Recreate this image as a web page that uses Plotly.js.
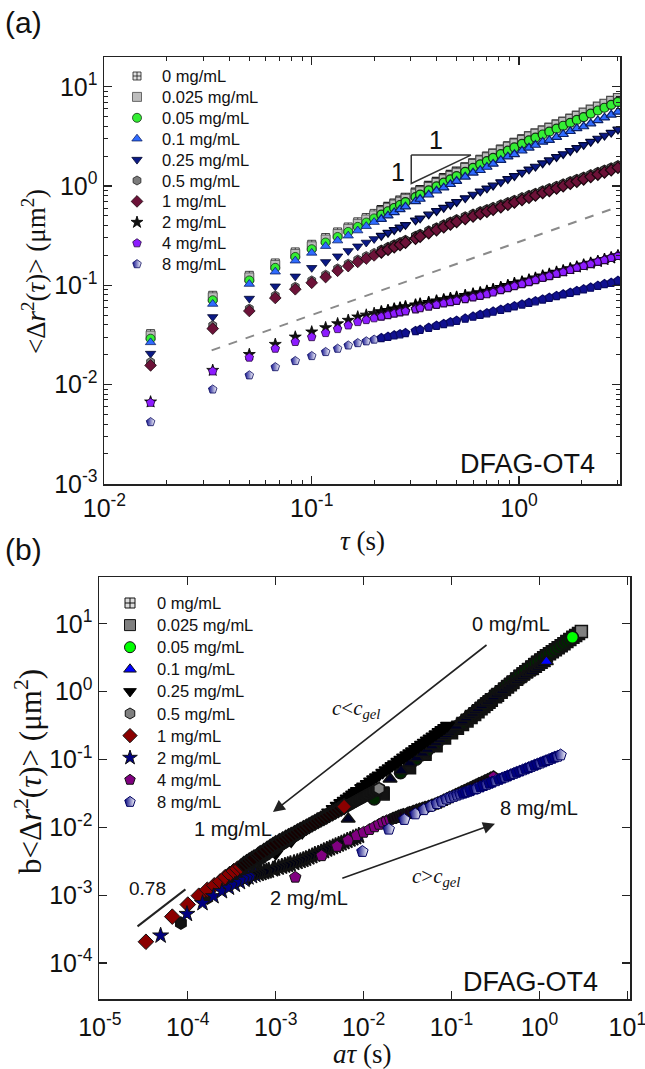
<!DOCTYPE html>
<html><head><meta charset="utf-8">
<script src="https://cdn.plot.ly/plotly-3.0.1.min.js"></script>
<style>body{margin:0;background:#fff}#chart{width:645px;height:1069px}</style>
</head><body><div id="chart"></div>
<script>
// ---------------- data ----------------
const concLabels = ['0 mg/mL','0.025 mg/mL','0.05 mg/mL','0.1 mg/mL','0.25 mg/mL','0.5 mg/mL','1 mg/mL','2 mg/mL','4 mg/mL','8 mg/mL'];
const tau = [0.0167,0.0333,0.05,0.0667,0.0833,0.1,0.1167,0.1333,0.15,0.1667,0.1833,0.2,0.2167,0.2333,0.25,0.2667,0.2833,0.3167,0.3333,0.3667,0.4,0.4333,0.4667,0.5,0.55,0.6,0.65,0.7,0.75,0.8167,0.8833,0.95,1.0333,1.1167,1.2,1.3,1.4,1.5167,1.6333,1.7667,1.9,2.05,2.2167,2.4,2.5833,2.7833,3.0];
const msd_0 = [0.0326,0.0793,0.126,0.168,0.217,0.259,0.303,0.345,0.387,0.436,0.482,0.530,0.578,0.625,0.675,0.723,0.771,0.869,0.920,1.016,1.114,1.213,1.312,1.413,1.560,1.710,1.858,2.004,2.153,2.350,2.547,2.748,2.985,3.199,3.412,3.664,3.908,4.198,4.487,4.808,5.140,5.495,5.888,6.324,6.745,7.211,7.709];
const msd_0025 = [0.0311,0.0757,0.120,0.160,0.207,0.247,0.289,0.329,0.370,0.416,0.460,0.506,0.558,0.604,0.652,0.698,0.745,0.839,0.889,0.981,1.076,1.172,1.267,1.365,1.524,1.671,1.815,1.958,2.104,2.296,2.488,2.685,2.916,3.163,3.373,3.622,3.863,4.150,4.436,4.753,5.081,5.495,5.888,6.324,6.745,7.211,7.709];
const msd_005 = [0.0290,0.0707,0.112,0.150,0.193,0.231,0.270,0.307,0.345,0.388,0.429,0.472,0.515,0.557,0.601,0.644,0.687,0.774,0.820,0.905,0.993,1.081,1.169,1.259,1.390,1.524,1.655,1.786,1.918,2.094,2.269,2.448,2.660,2.886,3.078,3.305,3.525,3.787,4.047,4.337,4.636,4.956,5.370,5.767,6.151,6.576,7.031];
const msd_01 = [0.0266,0.0648,0.103,0.137,0.177,0.212,0.248,0.282,0.316,0.356,0.394,0.433,0.465,0.503,0.543,0.581,0.620,0.699,0.740,0.817,0.896,0.963,1.042,1.122,1.239,1.358,1.442,1.555,1.671,1.824,1.977,2.086,2.266,2.428,2.590,2.781,2.896,3.111,3.325,3.563,3.809,3.978,4.263,4.579,4.883,5.221,5.581];
const msd_025 = [0.0205,0.0480,0.0735,0.0977,0.123,0.150,0.172,0.196,0.222,0.247,0.270,0.293,0.316,0.339,0.361,0.384,0.406,0.451,0.473,0.518,0.561,0.605,0.649,0.692,0.757,0.822,0.885,0.948,1.014,1.096,1.180,1.265,1.367,1.472,1.573,1.698,1.820,1.963,2.103,2.259,2.421,2.600,2.799,3.013,3.228,3.459,3.715];
const msd_05 = [0.0169,0.0395,0.0582,0.0789,0.0967,0.112,0.128,0.148,0.165,0.182,0.197,0.212,0.228,0.243,0.258,0.271,0.286,0.314,0.329,0.356,0.383,0.410,0.437,0.463,0.495,0.526,0.557,0.585,0.614,0.652,0.689,0.725,0.770,0.812,0.853,0.904,0.951,1.005,1.060,1.120,1.179,1.242,1.313,1.388,1.460,1.539,1.623];
const msd_1 = [0.0156,0.0366,0.0551,0.0745,0.0912,0.106,0.121,0.140,0.156,0.172,0.186,0.200,0.215,0.229,0.243,0.256,0.270,0.296,0.310,0.336,0.361,0.387,0.412,0.437,0.467,0.496,0.525,0.552,0.579,0.615,0.650,0.684,0.726,0.766,0.805,0.853,0.897,0.948,1.000,1.057,1.112,1.172,1.239,1.309,1.377,1.452,1.531];
const msd_2 = [0.00668,0.0139,0.0201,0.0254,0.0301,0.0339,0.0374,0.0410,0.0444,0.0480,0.0501,0.0521,0.0541,0.0558,0.0577,0.0592,0.0607,0.0634,0.0647,0.0671,0.0695,0.0716,0.0738,0.0759,0.0787,0.0815,0.0841,0.0871,0.0906,0.0951,0.0993,0.104,0.108,0.113,0.118,0.124,0.129,0.135,0.140,0.147,0.153,0.160,0.167,0.174,0.182,0.189,0.198];
const msd_4 = [0.00656,0.0136,0.0187,0.0230,0.0269,0.0301,0.0331,0.0363,0.0395,0.0427,0.0447,0.0466,0.0484,0.0502,0.0520,0.0535,0.0548,0.0575,0.0589,0.0612,0.0637,0.0659,0.0679,0.0700,0.0729,0.0757,0.0783,0.0815,0.0849,0.0895,0.0938,0.0982,0.103,0.108,0.113,0.119,0.124,0.131,0.136,0.143,0.150,0.157,0.164,0.173,0.180,0.189,0.198];
const msd_8 = [0.00419,0.00893,0.0124,0.0150,0.0173,0.0194,0.0213,0.0230,0.0248,0.0262,0.0273,0.0284,0.0294,0.0303,0.0313,0.0322,0.0330,0.0347,0.0356,0.0374,0.0392,0.0408,0.0425,0.0440,0.0462,0.0484,0.0505,0.0524,0.0543,0.0568,0.0592,0.0615,0.0641,0.0668,0.0692,0.0721,0.0750,0.0782,0.0811,0.0843,0.0877,0.0912,0.0948,0.0989,0.103,0.106,0.111];

// time-concentration superposition shift factors (panel b)
const aShift = [1, 1, 0.79, 0.4, 0.03, 0.005, 0.002, 0.00294, 0.1, 0.58];
const bShift = [1, 1, 0.9, 0.5, 0.085, 0.023, 0.0132, 0.038, 0.28, 1.05];

// reference guide lines
const guideTau = [0.0329, 3.0];
const guideMsd = [0.0221, 0.617];
const triTau = [0.302, 0.586, 0.302, 0.302];
const triMsd = [2.05, 2.05, 1.06, 2.05];
const slopeLineX = [2.68e-5, 9.4e-5];
const slopeLineY = [3.47e-4, 1.22e-3];

// tick labels
const tickValsAx = [0.01, 0.1, 1];
const tickTextAx = ['10<sup>-2</sup>','10<sup>-1</sup>','10<sup>0</sup>'];
const tickValsAy = [0.001, 0.01, 0.1, 1, 10];
const tickTextAy = ['10<sup>-3</sup>','10<sup>-2</sup>','10<sup>-1</sup>','10<sup>0</sup>','10<sup>1</sup>'];
const tickValsBx = [1e-5,1e-4,1e-3,1e-2,1e-1,1,10];
const tickTextBx = ['10<sup>-5</sup>','10<sup>-4</sup>','10<sup>-3</sup>','10<sup>-2</sup>','10<sup>-1</sup>','10<sup>0</sup>','10<sup>1</sup>'];
const tickValsBy = [1e-4,1e-3,1e-2,1e-1,1,10];
const tickTextBy = ['10<sup>-4</sup>','10<sup>-3</sup>','10<sup>-2</sup>','10<sup>-1</sup>','10<sup>0</sup>','10<sup>1</sup>'];

// ---------------- styles ----------------
const msdSeries = [msd_0, msd_0025, msd_005, msd_01, msd_025, msd_05, msd_1, msd_2, msd_4, msd_8];
const symbols = ['square-cross','square','circle','triangle-up','triangle-down','hexagon','diamond','star','pentagon','pentagon'];
const fillA = ['#e0e0e0','#bdbdbd','#33ee33','#2f6bff','#0b1a86','#7c7c7c','#6c1238','#111111','#8d1cff','#101090'];
const edgeA = ['#1a1a1a','#4a4a4a','#163016','#0c2066','#02072e','#222222','#1a060e','#000000','#26063f','#0a0a60'];
const fillB = ['#dddddd','#808080','#00ff00','#0000ff','#000000','#7f7f7f','#8b0000','#000080','#800080','#000080'];
const edgeB = ['#111111','#111111','#111111','#111111','#000000','#111111','#111111','#111111','#111111','#000060'];
// how many early points keep their own colour in panel (b) (rest are hidden in the dense band)
const showEarlyB = [0, 0, 0, 0, 0, 0, 12, 12, 12, 12];
const nDiscrete = 12;

function mix(hex, f){ // blend toward black by f
  const n = parseInt(hex.slice(1),16);
  const r = Math.round(((n>>16)&255)*(1-f)), g = Math.round(((n>>8)&255)*(1-f)), b = Math.round((n&255)*(1-f));
  return 'rgb('+r+','+g+','+b+')';
}

function mkA(i, size, dense){
  const m = {symbol: symbols[i], size: size, color: fillA[i],
    line: {color: edgeA[i], width: dense ? tau.map((t,j)=> j<nDiscrete ? 0.8 : 1.2) : 0.8}};
  if (i === 9) m.gradient = dense ? {type: tau.map((t,j)=> j<nDiscrete ? 'horizontal' : 'none'), color:'#ffffff'}
                                  : {type:'horizontal', color:'#ffffff'};
  return m;
}
function mkB(i, size, dense){
  const last = tau.length-1;
  let color = fillB[i];
  if (dense && i!==9) color = tau.map((t,j)=> (j<showEarlyB[i] || j===last) ? fillB[i] : mix(fillB[i],0.85));
  const m = {symbol: symbols[i], size: size, color: color,
    line: {color: edgeB[i], width: dense ? tau.map((t,j)=> j<showEarlyB[i] ? 1 : 1.5) : 1}};
  if (i === 9) {
    m.gradient = dense ? {type: tau.map((t,j)=> (j<showEarlyB[i] || j===last || j%3===0) ? 'horizontal' : 'none'), color:'#ffffff'}
                       : {type:'horizontal', color:'#ffffff'};
    if (dense) m.line.width = 1;
  }
  return m;
}

const traces = [];
// panel (a)
msdSeries.forEach((s,i)=>{
  traces.push({type:'scatter', mode:'markers', x: tau, y: s, xaxis:'x', yaxis:'y',
    marker: mkA(i, i===0 ? 8 : 9, true), name: concLabels[i], showlegend:false, hoverinfo:'skip'});
});
traces.push({type:'scatter', mode:'lines', x: guideTau, y: guideMsd, xaxis:'x', yaxis:'y',
  line:{color:'#8a8a8a', width:2, dash:'dash'}, showlegend:false, hoverinfo:'skip'});
traces.push({type:'scatter', mode:'lines', x: triTau, y: triMsd, xaxis:'x', yaxis:'y',
  line:{color:'#333', width:1.5}, showlegend:false, hoverinfo:'skip'});
// panel (b)
msdSeries.forEach((s,i)=>{
  traces.push({type:'scatter', mode:'markers', x: tau.map(t=>t*aShift[i]), y: s.map(v=>v*bShift[i]),
    xaxis:'x2', yaxis:'y2', marker: mkB(i, i===0 ? 11 : 12, true), name: concLabels[i], showlegend:false, hoverinfo:'skip'});
});
traces.push({type:'scatter', mode:'lines', x: slopeLineX, y: slopeLineY, xaxis:'x2', yaxis:'y2',
  line:{color:'#222', width:2}, showlegend:false, hoverinfo:'skip'});

// hand-made legends on a pixel overlay (x3/y3)
const legA = {x:137, y0:76, dy:20.9, tx:160};
const legB = {x:130, y0:603, dy:22.1, tx:155};
const annotations = [];
concLabels.forEach((lab,i)=>{
  traces.push({type:'scatter', mode:'markers', x:[legA.x], y:[legA.y0+i*legA.dy], xaxis:'x3', yaxis:'y3',
    marker: mkA(i, i===0 ? 8 : 9, false), showlegend:false, hoverinfo:'skip'});
  traces.push({type:'scatter', mode:'markers', x:[legB.x], y:[legB.y0+i*legB.dy], xaxis:'x3', yaxis:'y3',
    marker: mkB(i, i===0 ? 10 : 11, false), showlegend:false, hoverinfo:'skip'});
  annotations.push({xref:'x3', yref:'y3', x:legA.tx, y:legA.y0+i*legA.dy, text:lab, showarrow:false,
    xanchor:'left', yanchor:'middle', font:{family:'Liberation Sans, Arial', size:16.5, color:'#111'}});
  annotations.push({xref:'x3', yref:'y3', x:legB.tx, y:legB.y0+i*legB.dy, text:lab, showarrow:false,
    xanchor:'left', yanchor:'middle', font:{family:'Liberation Sans, Arial', size:16.5, color:'#111'}});
});

const sans = 'Liberation Sans, Arial, sans-serif';
const serif = 'Liberation Serif, Times New Roman, serif';
function pxAnn(x,y,text,size,fam,extra){
  return Object.assign({xref:'x3', yref:'y3', x:x, y:y, text:text, showarrow:false,
    xanchor:'center', yanchor:'middle', font:{family:fam, size:size, color:'#111'}}, extra||{});
}
annotations.push(pxAnn(23, 22, '(a)', 30, sans));
annotations.push(pxAnn(23, 549, '(b)', 30, sans));
annotations.push(pxAnn(34, 272, '&lt;Δ<i>r</i><sup>2</sup>(<i>τ</i>)&gt; (μm<sup>2</sup>)', 27, serif, {textangle:-90}));
annotations.push(pxAnn(362, 541, '<i>τ</i> (s)', 27, serif));
annotations.push(pxAnn(28, 772, 'b&lt;Δ<i>r</i><sup>2</sup>(<i>τ</i>)&gt; (μm<sup>2</sup>)', 31, serif, {textangle:-90}));
annotations.push(pxAnn(362, 1054, '<i>aτ</i> (s)', 27, serif));
annotations.push(pxAnn(597, 464, 'DFAG-OT4', 27, sans, {xanchor:'right'}));
annotations.push(pxAnn(600, 982, 'DFAG-OT4', 27, sans, {xanchor:'right'}));

// data-anchored annotations (log units)
const L = Math.log10;
function dAnn(xr,yr,x,y,text,size,fam){
  return {xref:xr, yref:yr, x:L(x), y:L(y), text:text, showarrow:false, xanchor:'center', yanchor:'middle',
    font:{family:fam, size:size, color:'#111'}};
}
annotations.push(dAnn('x','y',0.398,2.9,'1',25,sans));
annotations.push(dAnn('x','y',0.262,1.39,'1',25,sans));
annotations.push(dAnn('x2','y2',0.47,10,'0 mg/mL',20,sans));
annotations.push(dAnn('x2','y2',3.3e-4,0.0095,'1 mg/mL',20,sans));
annotations.push(dAnn('x2','y2',1.0,0.019,'8 mg/mL',20,sans));
annotations.push(dAnn('x2','y2',0.0024,9.1e-4,'2 mg/mL',20,sans));
annotations.push(dAnn('x2','y2',3.5e-5,1.27e-3,'0.78',19,sans));
annotations.push(dAnn('x2','y2',0.0082,0.56,'<i>c</i>&lt;<i>c</i><sub><i>gel</i></sub>',21,serif));
annotations.push(dAnn('x2','y2',0.0665,0.00185,'<i>c</i>&gt;<i>c</i><sub><i>gel</i></sub>',21,serif));
const arrowHeadX = [9.3e-4, 0.312], arrowHeadY = [0.0168, 0.0113];
const arrowTailX = [0.26, 0.0055], arrowTailY = [5.07, 0.00175];
for (let k=0;k<2;k++){
  annotations.push({xref:'x2', yref:'y2', axref:'x2', ayref:'y2', x:L(arrowHeadX[k]), y:L(arrowHeadY[k]),
    ax:L(arrowTailX[k]), ay:L(arrowTailY[k]), text:'', showarrow:true, arrowhead:2, arrowsize:1.5,
    arrowwidth:1.6, arrowcolor:'#222', standoff:0, startstandoff:0});
}

function minorVals(e0,e1){ const v=[]; for(let e=e0;e<=e1;e++) for(let k=2;k<=9;k++) v.push(k*Math.pow(10,e)); return v; }

const axBase = {type:'log', showline:true, linecolor:'#222', linewidth:1.5, mirror:'allticks',
  ticks:'inside', ticklen:8, tickwidth:1.3, tickcolor:'#222', showgrid:false, zeroline:false,
  tickmode:'array', tickfont:{family:sans, size:25, color:'#111'}, fixedrange:true, ticklabeloverflow:'allow'};

const layout = {
  width:645, height:1069, margin:{l:0,r:0,t:0,b:0}, paper_bgcolor:'#ffffff', plot_bgcolor:'rgba(0,0,0,0)',
  showlegend:false, font:{family:sans, color:'#111'},
  xaxis: Object.assign({}, axBase, {domain:[104/645, 620/645], anchor:'y', range:[-2.002, 0.487],
    tickvals:tickValsAx, ticktext:tickTextAx, ticklabelstandoff:1,
    minor:{ticks:'inside', ticklen:4, tickwidth:1, tickcolor:'#222', tickvals:minorVals(-2,0)}}),
  yaxis: Object.assign({}, axBase, {domain:[1-484/1069, 1-57/1069], anchor:'x', range:[-3.002, 1.3],
    tickvals:tickValsAy, ticktext:tickTextAy,
    minor:{ticks:'inside', ticklen:4, tickwidth:1, tickcolor:'#222', tickvals:minorVals(-3,1)}}),
  xaxis2: Object.assign({}, axBase, {domain:[99/645, 630/645], anchor:'y2', range:[-5.01, 1.03],
    tickvals:tickValsBx, ticktext:tickTextBx, ticklabelstandoff:5}),
  yaxis2: Object.assign({}, axBase, {domain:[1-999/1069, 1-577/1069], anchor:'x2', range:[-4.53, 1.69],
    tickvals:tickValsBy, ticktext:tickTextBy}),
  xaxis3: {domain:[0,1], range:[0,645], visible:false, anchor:'y3', fixedrange:true},
  yaxis3: {domain:[0,1], range:[1069,0], visible:false, anchor:'x3', fixedrange:true},
  annotations: annotations
};

Plotly.newPlot('chart', traces, layout, {staticPlot:true, displayModeBar:false});
</script>
</body></html>
